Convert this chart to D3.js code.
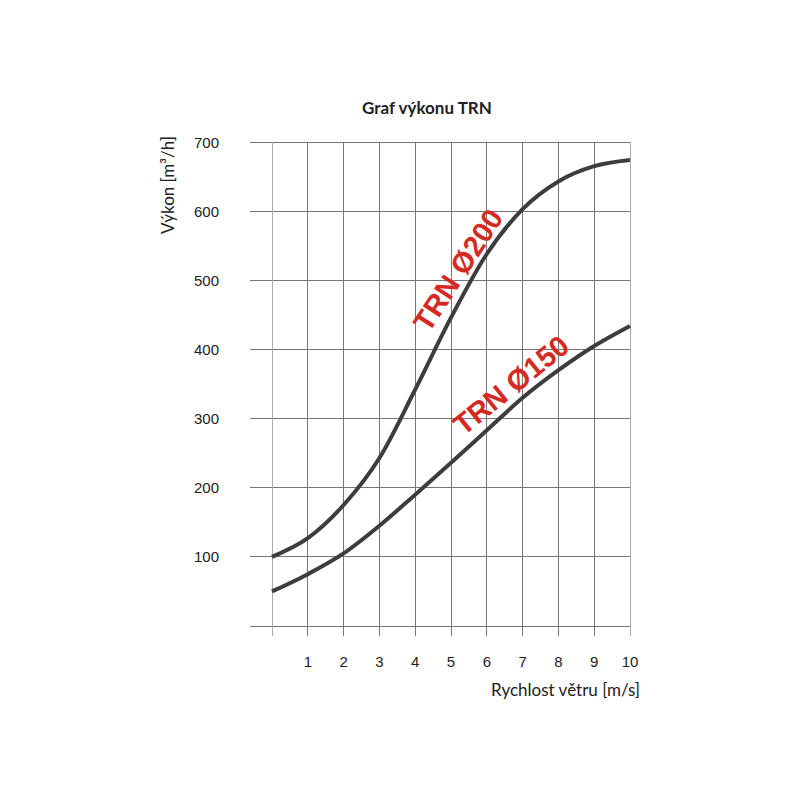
<!DOCTYPE html>
<html><head><meta charset="utf-8">
<script src="https://cdn.jsdelivr.net/npm/d3@7"></script>
<style>body{margin:0;background:#fff}</style>
</head><body>
<svg id="c" width="800" height="800"></svg>
<script>
const speeds = [0,1,2,3,4,5,6,7,8,9,10];
const trn200 = [100,127,175,243,342,446,538,603,643,665,674];
const trn150 = [50,75,105,145,190,236,283,330,370,405,434];
const xTicks = [1,2,3,4,5,6,7,8,9,10];
const yTicks = [100,200,300,400,500,600,700];
const seriesLabels = ["TRN Ø200","TRN Ø150"];

const svg = d3.select("#c");
const x = d3.scaleLinear().domain([0,10]).range([272,630]);
const y = d3.scaleLinear().domain([0,700]).range([626,142]);

const g = svg.append("g");
g.selectAll("line.h").data([0,...yTicks]).join("line")
  .attr("x1",250).attr("x2",x(10)).attr("y1",d=>y(d)).attr("y2",d=>y(d))
  .attr("stroke","#777").attr("stroke-width",1).attr("shape-rendering","crispEdges");
g.selectAll("line.v").data([0,...xTicks]).join("line")
  .attr("x1",d=>x(d)).attr("x2",d=>x(d)).attr("y1",y(700)).attr("y2",y(0)+10)
  .attr("stroke",d=>(d===0||d===10)?"#aaa":"#777").attr("stroke-width",1).attr("shape-rendering","crispEdges");

g.selectAll("text.yt").data(yTicks).join("text")
  .attr("x",219).attr("y",d=>y(d)+5.5).attr("text-anchor","end")
  .attr("font-family","Liberation Sans, Arial, sans-serif").attr("font-size",15).attr("fill","#222")
  .text(d=>d);
g.selectAll("text.xt").data(xTicks).join("text")
  .attr("x",d=>x(d)).attr("y",667).attr("text-anchor","middle")
  .attr("font-family","Liberation Sans, Arial, sans-serif").attr("font-size",15).attr("fill","#222")
  .text(d=>d);

svg.append("text").attr("x",640).attr("y",696).attr("text-anchor","end")
  .attr("font-family","Lato, sans-serif").attr("font-size",17).attr("fill","#222")
  .text("Rychlost větru [m/s]");
svg.append("text").attr("transform","translate(174,185) rotate(-90)").attr("text-anchor","middle")
  .attr("font-family","Lato, sans-serif").attr("font-size",17).attr("fill","#222")
  .text("Výkon [m³/h]");
svg.append("text").attr("x",427).attr("y",114).attr("text-anchor","middle")
  .attr("font-family","Lato, sans-serif").attr("font-weight","bold").attr("font-size",17).attr("fill","#222")
  .text("Graf výkonu TRN");

const line = d3.line().x((d,i)=>x(speeds[i])).y(d=>y(d)).curve(d3.curveMonotoneX);
[trn200,trn150].forEach(s=>{
  svg.append("path").attr("d",line(s)).attr("fill","none")
    .attr("stroke","#3d3d3d").attr("stroke-width",4);
});

const labelPos = [{cx:458,cy:270,a:-57},{cx:511,cy:385,a:-39}];
seriesLabels.forEach((t,i)=>{
  const p = labelPos[i];
  svg.append("text").attr("transform",`translate(${p.cx},${p.cy}) rotate(${p.a})`)
    .attr("text-anchor","middle").attr("dy","0.35em")
    .attr("font-family","Liberation Sans, Arial, sans-serif").attr("font-weight","bold")
    .attr("font-size",29).attr("fill","#d42a22").text(t);
});
</script>
</body></html>
